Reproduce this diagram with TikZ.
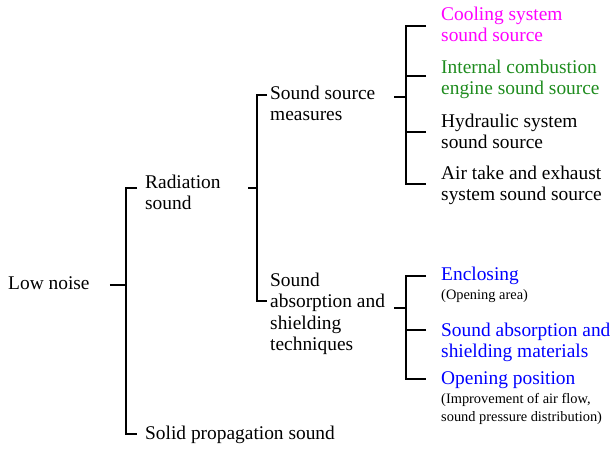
\documentclass[tikz,border=0pt]{standalone}
\usepackage{fontspec}
\setmainfont{Liberation Serif}
\usetikzlibrary{positioning}
\definecolor{noisemagenta}{RGB}{255,0,255}
\definecolor{noisegreen}{RGB}{30,140,30}
\definecolor{noiseblue}{RGB}{0,0,255}

\begin{document}
\begin{tikzpicture}[
  x=1pt, y=-1pt,
  item/.style={anchor=north west, inner sep=0pt, align=left, font=\fontsize{19.4}{21.5}\selectfont},
  note/.style={anchor=north west, inner sep=0pt, align=left, font=\fontsize{14.4}{18}\selectfont},
  tree/.style={line width=1.6pt}
]
\useasboundingbox (0,0) rectangle (612,452);

% Root and first level
\node[item] (low) at (8,274) {\strut Low noise};
\node[item] (rad) at (145,173) {\strut Radiation\\sound};
\node[item] (solid) at (145,424) {\strut Solid propagation sound};

% Second level
\node[item] (ssm) at (270,84) {\strut Sound source\\measures};
\node[item] (sabs) at (270,271) {\strut Sound\\absorption and\\shielding\\techniques};

% Sound sources
\node[item, text=noisemagenta] (cool) at (441,5) {\strut Cooling system\\sound source};
\node[item, text=noisegreen] (ice) at (441,58) {\strut Internal combustion\\engine sound source};
\node[item] (hyd) at (441,112) {\strut Hydraulic system\\sound source};
\node[item] (air) at (441,164) {\strut Air take and exhaust\\system sound source};

% Absorption and shielding
\node[item, text=noiseblue] (encl) at (441,265) {\strut Enclosing};
\node[note, below=0pt of encl.south west, anchor=north west] (encl-note) {\strut (Opening area)};
\node[item, text=noiseblue] (sam) at (441,321) {\strut Sound absorption and\\shielding materials};
\node[item, text=noiseblue] (open) at (441,369) {\strut Opening position};
\node[note, below=0pt of open.south west, anchor=north west] (open-note) {\strut (Improvement of air flow,\\sound pressure distribution)};

% Brackets
\coordinate (b0) at ([xshift=36pt]low.east);
\draw[tree] ([xshift=20pt]low.east) -- (b0);
\draw[tree] ([shift={(-8pt,-15pt)}]rad.north west) -| (b0) |- ([shift={(-8pt,-10pt)}]solid.north west);

\coordinate (b1) at (257,188);
\draw[tree] (b1) -- ++(-9,0);
\draw[tree] ([shift={(-3pt,-11pt)}]ssm.north west) -| (b1) |- ([shift={(-3pt,-30pt)}]sabs.north west);

\coordinate (b2) at (406,97);
\draw[tree] (b2) -- ++(-12,0);
\draw[tree] ([shift={(-15pt,-21pt)}]cool.north west) -| (b2) |- ([shift={(-15pt,-20pt)}]air.north west);
\draw[tree] ([shift={(-15pt,-18pt)}]ice.north west) -- ([yshift=-18pt]ice.north west -| b2);
\draw[tree] ([shift={(-15pt,-20pt)}]hyd.north west) -- ([yshift=-20pt]hyd.north west -| b2);

\coordinate (b3) at (406,308);
\draw[tree] (b3) -- ++(-12,0);
\draw[tree] ([shift={(-15pt,-11pt)}]encl.north west) -| (b3) |- ([shift={(-15pt,-10pt)}]open.north west);
\draw[tree] ([shift={(-15pt,-9pt)}]sam.north west) -- ([yshift=-9pt]sam.north west -| b3);

\end{tikzpicture}
\end{document}
